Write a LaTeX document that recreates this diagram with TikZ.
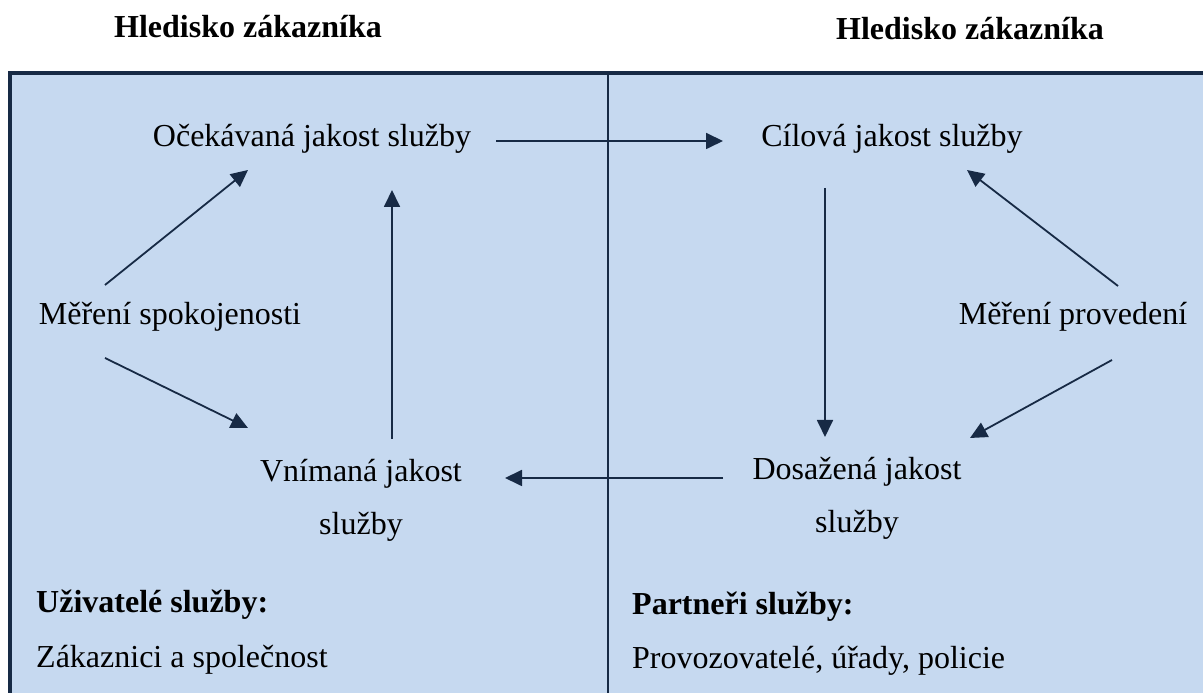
\documentclass[tikz,border=0pt]{standalone}
\usepackage{fontspec}
\setmainfont{Liberation Serif}
\usetikzlibrary{arrows.meta}
\definecolor{panelblue}{HTML}{C6D9F0}
\definecolor{navy}{HTML}{172A45}

\begin{document}
\begin{tikzpicture}[x=1pt, y=1pt]
\tikzstyle{txt}=[inner sep=0pt, anchor=base, font=\fontsize{32}{53}\selectfont, align=center]
\tikzstyle{head}=[txt, font=\fontsize{32}{53}\selectfont\bfseries]
\tikzstyle{note}=[txt, anchor=base west]
\tikzstyle{connect}=[-{Triangle[length=17pt, width=16pt]}, line width=1.8pt, draw=navy]
\tikzstyle{panel}=[fill=panelblue, draw=navy, line width=4pt]
    \useasboundingbox (0,0) rectangle (1203,693);
    \clip (0,0) rectangle (1203,693);
    \draw[panel] (10,620) rectangle (1230,-30);
    \draw[navy, line width=1.8pt] (608,620) -- (608,-10);
    % titles
    \node[head] (titleL) at (248,655) {Hledisko zákazníka};
    \node[head] (titleR) at (970,653) {Hledisko zákazníka};
    % quality nodes
    \node[txt] (expected) at (312,546) {Očekávaná jakost služby};
    \node[txt] (target)   at (892,546) {Cílová jakost služby};
    \node[txt] (satisf)   at (170,368) {Měření spokojenosti};
    \node[txt] (perform)  at (1073,368) {Měření provedení};
    \node[txt] (perceived) at (361,158) {Vnímaná jakost\\služby};
    \node[txt] (achieved)  at (857,160) {Dosažená jakost\\služby};
    % bottom notes
    \node[note, font=\fontsize{32}{53}\selectfont\bfseries] (users) at (36,80) {Uživatelé služby:};
    \node[note] (usersTxt) at (36,25) {Zákaznici a společnost};
    \node[note, font=\fontsize{32}{53}\selectfont\bfseries] (partners) at (632,78) {Partneři služby:};
    \node[note] (partnersTxt) at (632,24) {Provozovatelé, úřady, policie};
    % connectors
    \path ([xshift=184pt, yshift=6pt]expected.base) edge [connect] ([xshift=-169pt, yshift=6pt]target.base)
          ([xshift=-65pt, yshift=40pt]satisf.base) edge [connect] ([xshift=-64pt, yshift=-23pt]expected.base)
          ([xshift=-65pt, yshift=-33pt]satisf.base) edge [connect] ([xshift=-113pt, yshift=107pt]perceived.base)
          ([xshift=31pt, yshift=96pt]perceived.base) edge [connect] ([xshift=80pt, yshift=-43pt]expected.base)
          ([xshift=-67pt, yshift=-41pt]target.base) edge [connect] ([xshift=-32pt, yshift=96pt]achieved.base)
          ([xshift=45pt, yshift=39pt]perform.base) edge [connect] ([xshift=75pt, yshift=-23pt]target.base)
          ([xshift=39pt, yshift=-35pt]perform.base) edge [connect] ([xshift=113pt, yshift=95pt]achieved.base)
          ([xshift=-134pt, yshift=55pt]achieved.base) edge [connect] ([xshift=144pt, yshift=57pt]perceived.base);
\end{tikzpicture}
\end{document}
